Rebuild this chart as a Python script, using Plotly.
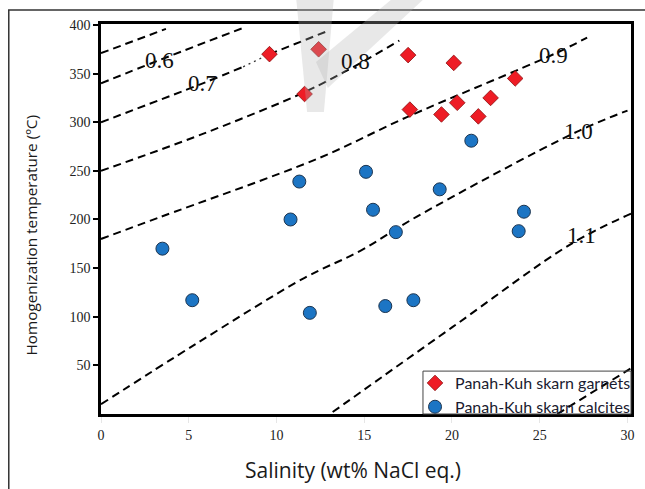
import plotly.graph_objects as go

# ---- data ----
garnet_salinity = [9.6, 12.4, 11.6, 17.5, 20.1, 23.6, 17.6, 19.4, 20.3, 22.2, 21.5]
garnet_temp = [370, 375, 329, 369, 361, 345, 313, 308, 320, 325, 306]

calcite_salinity = [3.5, 5.2, 11.3, 10.8, 11.9, 15.1, 15.5, 16.8, 16.2, 17.8, 19.3, 21.1, 24.1, 23.8]
calcite_temp = [170, 117, 239, 200, 104, 249, 210, 187, 111, 117, 231, 281, 208, 188]

# isochore (density) lines
iso_a_x = [0, 3.7]
iso_a_y = [371, 396]
iso_b_x = [0, 3.2, 8.1]
iso_b_y = [340, 363, 397]
iso_c1_x = [0, 5.8, 8.1]
iso_c1_y = [300, 340, 357]
iso_c2_x = [8.1, 9.6]
iso_c2_y = [357, 370]
iso_c3_x = [9.6, 12.8]
iso_c3_y = [370, 393]
iso_d_x = [0, 5.8, 11.6, 14.5, 17.0]
iso_d_y = [250, 288, 331, 358, 384]
iso_e_x = [0, 3.3, 12.4, 17.4, 25.8, 27.7]
iso_e_y = [180, 202, 263, 305, 370, 387]
iso_f_x = [0, 5.4, 11.6, 14.8, 18.0, 27.1, 30.0]
iso_f_y = [10, 72, 140, 168, 203, 290, 312]
iso_g_x = [13.2, 20.0, 26.8, 30.2]
iso_g_y = [2, 89, 175, 206]
iso_h_x = [26.0, 30.2]
iso_h_y = [0, 47]

density_labels = ["0.6", "0.7", "0.8", "0.9", "1.0", "1.1"]
density_label_x = [3.33, 5.77, 14.5, 25.8, 27.2, 27.4]
density_label_y = [363, 340, 362, 369, 290, 184]

x_ticks = [0, 5, 10, 15, 20, 25, 30]
y_ticks = [50, 100, 150, 200, 250, 300, 350, 400]

fig = go.Figure()

dash_style = dict(color="black", width=2, dash="8px,5px")
for xs, ys in [(iso_a_x, iso_a_y), (iso_b_x, iso_b_y), (iso_c1_x, iso_c1_y),
               (iso_c3_x, iso_c3_y), (iso_d_x, iso_d_y), (iso_e_x, iso_e_y),
               (iso_f_x, iso_f_y), (iso_g_x, iso_g_y), (iso_h_x, iso_h_y)]:
    fig.add_trace(go.Scatter(x=xs, y=ys, mode="lines", line=dash_style,
                             line_shape="spline", showlegend=False, hoverinfo="skip"))
fig.add_trace(go.Scatter(x=iso_c2_x, y=iso_c2_y, mode="lines",
                         line=dict(color="#333", width=1.3, dash="2px,4px"),
                         showlegend=False, hoverinfo="skip"))

fig.add_trace(go.Scatter(
    x=garnet_salinity, y=garnet_temp, mode="markers", name="Panah-Kuh skarn garnets",
    marker=dict(symbol="diamond", size=12, color="#EE1C25",
                line=dict(color="#8a1010", width=0.8))))
fig.add_trace(go.Scatter(
    x=calcite_salinity, y=calcite_temp, mode="markers", name="Panah-Kuh skarn calcites",
    marker=dict(symbol="circle", size=13, color="#1C75C4",
                line=dict(color="#1d3550", width=1))))

for t, lx, ly in zip(density_labels, density_label_x, density_label_y):
    fig.add_annotation(x=lx, y=ly, text=t, showarrow=False,
                       font=dict(family="Liberation Serif", size=23, color="#111"))

# axis titles
fig.add_annotation(xref="paper", yref="paper", x=0.475, y=-0.1436,
                   xanchor="center", yanchor="middle",
                   text="Salinity (wt% NaCl eq.)", showarrow=False,
                   font=dict(family="Open Sans", size=21, color="#1a1a1a"))
fig.add_annotation(xref="paper", yref="paper", x=-0.1327, y=0.457, textangle=-90,
                   xanchor="center", yanchor="middle",
                   text="Homogenization temperature (ºC)", showarrow=False,
                   font=dict(family="Open Sans", size=15.3, color="#1a1a1a"))

# outer frame
fig.add_shape(type="rect", xref="paper", yref="paper",
              x0=-0.174, x1=1.05, y0=-0.25, y1=1.036,
              line=dict(color="#333", width=1.5), layer="below")
# legend frame
fig.add_shape(type="rect", xref="paper", yref="paper",
              x0=0.6075, x1=1.0, y0=0.0, y1=0.110,
              line=dict(color="#444", width=1), layer="above")


# faint grey watermark strokes at the top (pixel -> paper helper)
def pp(px, py):
    return (px - 101) / 535, (414 - py) / 390


wm1 = [pp(298, -2), pp(336, -2), pp(326, 112), pp(309, 112)]
wm2 = [pp(318, 62), pp(396, -2), pp(428, -2), pp(330, 88)]
for poly in (wm1, wm2):
    path = "M " + " L ".join(f"{a:.4f},{b:.4f}" for a, b in poly) + " Z"
    fig.add_shape(type="path", path=path, xref="paper", yref="paper",
                  fillcolor="rgba(180,180,180,0.3)", line=dict(width=0), layer="above")

fig.update_layout(
    width=645, height=489,
    margin=dict(l=101, r=9, t=24, b=75),
    paper_bgcolor="white", plot_bgcolor="white",
    showlegend=True,
    legend=dict(x=0.5925, y=0.123, xanchor="left", yanchor="top",
                bgcolor="rgba(0,0,0,0)", borderwidth=0,
                font=dict(family="Lato", size=16, color="#1b1b30"),
                itemwidth=30, tracegroupgap=0),
    xaxis=dict(range=[0, 30.2], tickvals=x_ticks, showgrid=False, zeroline=False,
               showline=True, linecolor="black", linewidth=2.5, mirror=True,
               ticks="outside", ticklen=6, tickwidth=1, tickcolor="#e6e6e6",
               tickfont=dict(family="Liberation Serif", size=14, color="#222")),
    yaxis=dict(range=[0, 401], tickvals=y_ticks, showgrid=False, zeroline=False,
               showline=True, linecolor="black", linewidth=2.5, mirror=True,
               ticks="outside", ticklen=5, tickwidth=1.5, tickcolor="black",
               tickfont=dict(family="Liberation Serif", size=14, color="#222")),
)

fig.write_html("out.html")
